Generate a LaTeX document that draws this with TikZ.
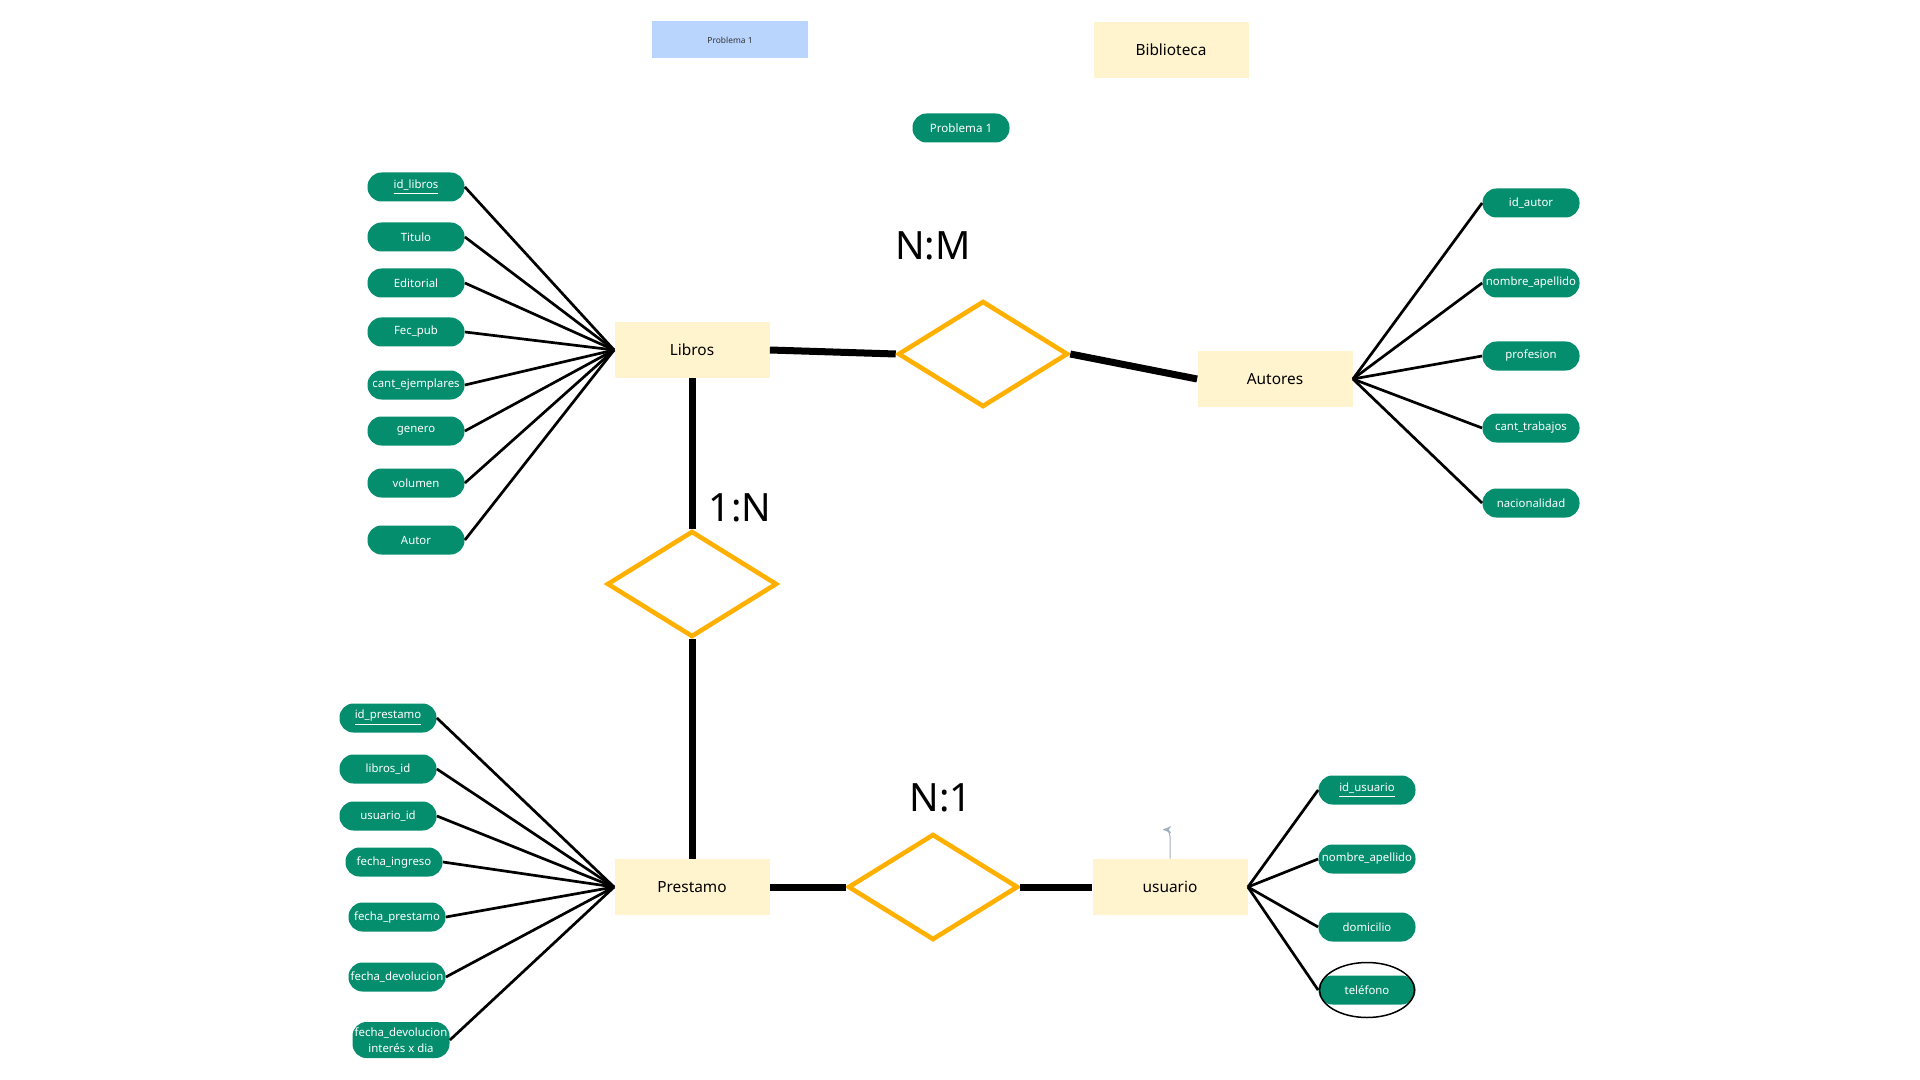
\documentclass[tikz,border=0pt]{standalone}
\usepackage{fontspec}
\setmainfont{Noto Sans}
\usepackage {tikz}
\usetikzlibrary{arrows, positioning, shapes.geometric}
\definecolor {verde}{RGB}{4,142,109}
\definecolor {amarillo}{RGB}{255,244,206}
\definecolor {naranja}{RGB}{255,176,0}
\definecolor {azulnota}{RGB}{185,212,253}
\definecolor {gris}{RGB}{160,175,190}

\begin{document}
\begin{tikzpicture}[x=0.5pt,y=-0.5pt,>=stealth',on grid,
entidad/.style ={rectangle, fill=amarillo, minimum width=77.5pt, minimum height=28pt,
inner sep=0pt, font=\fontsize{7.7}{9}\selectfont},
atributo/.style ={rectangle, rounded corners=7pt, fill=verde, text=white, minimum width=48.5pt,
minimum height=14.5pt, inner sep=0pt, font=\fontsize{5.7}{6.8}\selectfont},
relacion/.style ={diamond, draw=naranja, line width=2.3pt, minimum width=85pt, minimum height=53pt, inner sep=0pt},
cardinal/.style ={inner sep=0pt, font=\fontsize{19.5}{22}\selectfont}]

\useasboundingbox (0,0) rectangle (1920,1080);

    \node[rectangle, fill=azulnota, minimum width=78pt, minimum height=18.5pt, text=black!80,
          font=\fontsize{4.2}{5}\selectfont] (nota) at (730,40) {Problema 1};
    \node[entidad] (biblioteca) at (1171,50) {Biblioteca};
    \node[atributo, font=\fontsize{5.8}{6.8}\selectfont] (problema) at (961,128) {Problema 1};

    \node[entidad] (libros) at (692,350) {Libros};
    \node[relacion] (R1) [below right=2pt and 145.5pt of libros] {};
    \node[entidad] (autores) [below right=12.5pt and 146pt of R1] {Autores};
    \node[relacion] (R2) [below=117pt of libros] {};
    \node[entidad] (prestamo) [below=151.5pt of R2] {Prestamo};
    \node[relacion] (R3) [right=120.5pt of prestamo] {};
    \node[entidad] (usuario) [right=118.5pt of R3] {usuario};

    \node[cardinal] (NM) [above left=54pt and 25pt of R1] {N:M};
    \node[cardinal] (UN) [above right=38pt and 24pt of R2] {1:N};
    \node[cardinal] (NU) [above right=44.5pt and 4pt of R3] {N:1};

    \node[atributo] (idlibros) [above left=81.5pt and 138pt of libros] {\underline{id\_libros}};
    \node[atributo] (titulo) [below=25pt of idlibros] {Titulo};
    \node[atributo] (editorial) [below=23pt of titulo] {Editorial};
    \node[atributo] (fecpub) [below=24.5pt of editorial] {Fec\_pub};
    \node[atributo] (cantej) [below=26.5pt of fecpub] {cant\_ejemplares};
    \node[atributo] (genero) [below=23pt of cantej] {genero};
    \node[atributo] (volumen) [below=26pt of genero] {volumen};
    \node[atributo] (autor) [below=28.5pt of volumen] {Autor};

    \node[atributo] (idautor) [above right=88pt and 128pt of autores] {id\_autor};
    \node[atributo] (nomautor) [below=40pt of idautor] {nombre\_apellido};
    \node[atributo] (profesion) [below=36.5pt of nomautor] {profesion};
    \node[atributo] (canttrab) [below=36pt of profesion] {cant\_trabajos};
    \node[atributo] (nacionalidad) [below=37.5pt of canttrab] {nacionalidad};

    \node[atributo] (idprest) [above left=84.5pt and 152pt of prestamo] {\underline{id\_prestamo}};
    \node[atributo] (librosid) [below=25.5pt of idprest] {libros\_id};
    \node[atributo] (usuarioid) [below=23.5pt of librosid] {usuario\_id};
    \node[atributo] (fingreso) [below right=23pt and 3pt of usuarioid] {fecha\_ingreso};
    \node[atributo] (fprest) [below right=27.5pt and 1.5pt of fingreso] {fecha\_prestamo};
    \node[atributo] (fdevol) [below=30pt of fprest] {fecha\_devolucion};
    \node[atributo, minimum height=18pt, align=center, font=\fontsize{5.7}{8}\selectfont]
          (finteres) [below right=31.5pt and 2pt of fdevol] {fecha\_devolucion\\interés x dia};

    \node[atributo] (idusuario) [above right=48.5pt and 98.5pt of usuario] {\underline{id\_usuario}};
    \node[atributo] (nomusuario) [below=34.5pt of idusuario] {nombre\_apellido};
    \node[atributo] (domicilio) [below=34pt of nomusuario] {domicilio};
    \node[atributo] (telefono) [below=31.5pt of domicilio] {teléfono};
    \node[ellipse, draw, line width=0.75pt, minimum width=47.5pt, minimum height=27.5pt] (marcatel) at (telefono) {};

    \path (usuario.north) ++(-7,-29) coordinate (punta);

    \tikzset{atrlinea/.style={line width=1.35pt}}
    \tikzset{rellinea/.style={line width=3.5pt}}
    \path (libros.west) edge [atrlinea] (idlibros.east);
    \path (libros.west) edge [atrlinea] (titulo.east);
    \path (libros.west) edge [atrlinea] (editorial.east);
    \path (libros.west) edge [atrlinea] (fecpub.east);
    \path (libros.west) edge [atrlinea] (cantej.east);
    \path (libros.west) edge [atrlinea] (genero.east);
    \path (libros.west) edge [atrlinea] (volumen.east);
    \path (libros.west) edge [atrlinea] (autor.east);

    \path (autores.east) edge [atrlinea] (idautor.west);
    \path (autores.east) edge [atrlinea] (nomautor.west);
    \path (autores.east) edge [atrlinea] (profesion.west);
    \path (autores.east) edge [atrlinea] (canttrab.west);
    \path (autores.east) edge [atrlinea] (nacionalidad.west);

    \path (prestamo.west) edge [atrlinea] (idprest.east);
    \path (prestamo.west) edge [atrlinea] (librosid.east);
    \path (prestamo.west) edge [atrlinea] (usuarioid.east);
    \path (prestamo.west) edge [atrlinea] (fingreso.east);
    \path (prestamo.west) edge [atrlinea] (fprest.east);
    \path (prestamo.west) edge [atrlinea] (fdevol.east);
    \path (prestamo.west) edge [atrlinea] (finteres.east);

    \path (usuario.east) edge [atrlinea] (idusuario.west);
    \path (usuario.east) edge [atrlinea] (nomusuario.west);
    \path (usuario.east) edge [atrlinea] (domicilio.west);
    \path (usuario.east) edge [atrlinea] (telefono.west);

    \path (libros.east) edge [rellinea] (R1.west);
    \path (R1.east) edge [rellinea] (autores.west);
    \path (libros.south) edge [rellinea] (R2.north);
    \path (R2.south) edge [rellinea] (prestamo.north);
    \path (prestamo.east) edge [rellinea] (R3.west);
    \path (R3.east) edge [rellinea] (usuario.west);

    \draw[gris, line width=0.5pt, ->] (usuario.north) -- ++(0,-22) .. controls +(0,-6) and +(3,0) .. (punta);

\end{tikzpicture}
\end{document}
